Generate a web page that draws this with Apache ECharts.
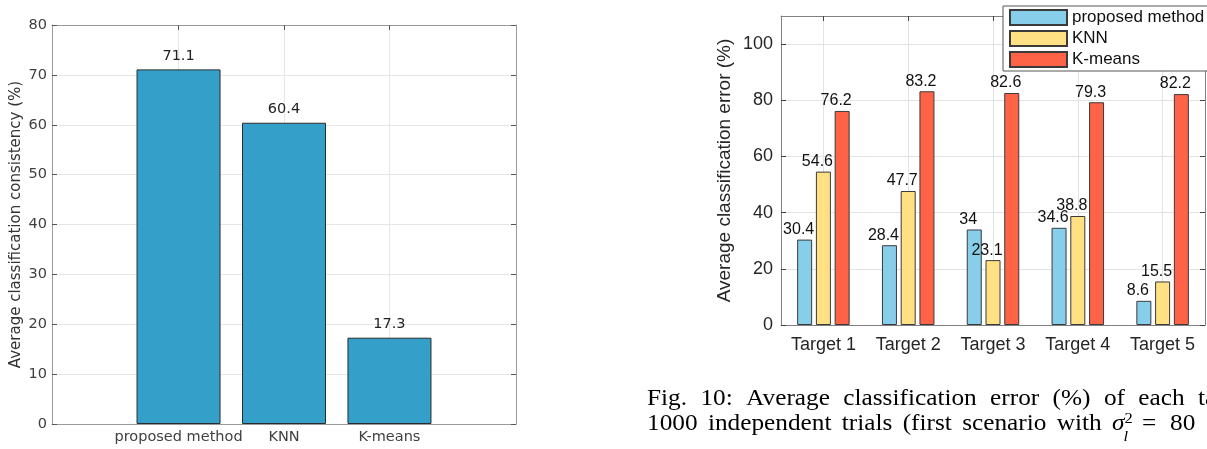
<!DOCTYPE html>
<html>
<head>
<meta charset="utf-8">
<script src="https://cdn.jsdelivr.net/npm/echarts@6/dist/echarts.min.js"></script>
<style>
  html, body { margin: 0; padding: 0; background: #fff; }
  #main { width: 1207px; height: 449px; }
</style>
</head>
<body>
<div id="main"></div>
<script>
// Left panel: average classification consistency per method
const methods = ['proposed method', 'KNN', 'K-means'];
const consistency = [71.1, 60.4, 17.3];
const consistencyTicks = [0, 10, 20, 30, 40, 50, 60, 70, 80];

// Right panel: average classification error per target
const targets = ['Target 1', 'Target 2', 'Target 3', 'Target 4', 'Target 5'];
const errorProposed = [30.4, 28.4, 34, 34.6, 8.6];
const errorKNN = [54.6, 47.7, 23.1, 38.8, 15.5];
const errorKMeans = [76.2, 83.2, 82.6, 79.3, 82.2];
const errorTicks = [0, 20, 40, 60, 80, 100];

// Caption words
const captionLine1 = ['Fig.', '10:', 'Average', 'classification', 'error', '(%)', 'of', 'each', 'target'];
const captionLine2 = ['1000', 'independent', 'trials', '(first', 'scenario', 'with'];

const methodSlots = methods.map((_, i) => i + 1);
const targetSlots = targets.map((_, i) => i + 1);

const LEFT_FONT = 'DejaVu Sans';
const RIGHT_FONT = 'Liberation Sans';
const SERIF = 'Liberation Serif';

const chart = echarts.init(document.getElementById('main'), null, { renderer: 'canvas' });

const leftBox = { show: true, onZero: false, lineStyle: { color: '#9a9a9a', width: 1 } };
const rightBox = { show: true, onZero: false, lineStyle: { color: '#808080', width: 1 } };
const leftGrid = { show: true, lineStyle: { color: '#e6e6e6', width: 1 } };
const rightGrid = { show: true, lineStyle: { color: '#e3e3e3', width: 1 } };

function innerTick(color, extra) {
  return Object.assign({ show: true, inside: true, length: 5, lineStyle: { color: color, width: 1 } }, extra || {});
}

// ---- caption layout (justified words, inline math) ----
const measureCtx = document.createElement('canvas').getContext('2d');
function textWidth(str, font) { measureCtx.font = font; return measureCtx.measureText(str).width; }

const capFont = '23px "' + SERIF + '"';
const scriptFont = '15px "' + SERIF + '"';
const capStretch = 1.1;   // caption type is set slightly wide
const capLeft = 647;
const line1Mid = 399;     // baseline ~405
const line2Mid = 423.5;   // baseline ~429.5

function justify(words, startX, lastWordX, fitCount) {
  // spread the first fitCount words so that word[fitCount] starts at lastWordX
  const widths = words.map(w => textWidth(w, capFont) * capStretch);
  let used = 0;
  for (let i = 0; i < fitCount; i++) used += widths[i];
  const gap = (lastWordX - startX - used) / fitCount;
  const xs = [];
  let x = startX;
  for (let i = 0; i < words.length; i++) { xs.push(x); x += widths[i] + gap; }
  return xs;
}

function capText(str, x, y, font) {
  return {
    type: 'text', x: x, y: y, z: 10, silent: true, scaleX: capStretch,
    style: { text: str, font: font, fill: '#000', verticalAlign: 'middle' }
  };
}

const line1X = justify(captionLine1, capLeft, 1198, captionLine1.length - 1);
const line2X = justify(captionLine2.concat(['σ']), capLeft, 1112, captionLine2.length);

const captionGraphics = [];
captionLine1.forEach((w, i) => captionGraphics.push(capText(w, line1X[i], line1Mid, capFont)));
captionLine2.forEach((w, i) => captionGraphics.push(capText(w, line2X[i], line2Mid, capFont)));
const sigmaX = line2X[captionLine2.length];
const sigmaW = textWidth('σ', 'italic ' + capFont) * capStretch;
captionGraphics.push(
  capText('σ', sigmaX, line2Mid, 'italic ' + capFont),
  capText('2', sigmaX + sigmaW, line2Mid - 4, scriptFont),
  capText('l', sigmaX + sigmaW - 1, line2Mid + 14, 'italic ' + scriptFont),
  capText('=', 1142, line2Mid, capFont),
  capText('80', 1170, line2Mid, capFont)
);

const labelStyleRight = {
  show: true, position: 'top', distance: 2, offset: [-6, 0],
  fontFamily: RIGHT_FONT, fontSize: 16, color: '#111'
};

const option = {
  backgroundColor: '#fff',
  animation: false,
  grid: [
    { left: 52, top: 25, width: 464, height: 399 },
    { left: 781, top: 16, width: 424, height: 309 }
  ],
  legend: {
    data: ['proposed method', 'KNN', 'K-means'],
    orient: 'vertical',
    left: 1003,
    top: 6,
    itemWidth: 57,
    itemHeight: 15,
    itemGap: 4,
    padding: [3, 40, 3, 6],
    borderColor: '#555',
    borderWidth: 1,
    backgroundColor: '#fff',
    icon: 'rect',
    textStyle: { fontFamily: RIGHT_FONT, fontSize: 17, color: '#111' }
  },
  xAxis: [
    {
      gridIndex: 0, type: 'value', position: 'bottom', min: -0.2, max: 4.2,
      axisLine: leftBox,
      axisTick: innerTick('#555', { customValues: methodSlots }),
      axisLabel: {
        customValues: methodSlots,
        formatter: v => methods[Math.round(v) - 1] || '',
        fontFamily: LEFT_FONT, fontSize: 14.5, color: '#404040', margin: 6
      },
      splitLine: leftGrid
    },
    {
      gridIndex: 0, type: 'value', position: 'top', min: -0.2, max: 4.2,
      axisLine: leftBox,
      axisTick: innerTick('#555', { customValues: methodSlots }),
      axisLabel: { show: false },
      splitLine: { show: false }
    },
    {
      gridIndex: 1, type: 'category', position: 'bottom', data: targets,
      axisLine: rightBox,
      axisTick: innerTick('#444', { alignWithLabel: true }),
      axisLabel: { fontFamily: RIGHT_FONT, fontSize: 18, color: '#262626', margin: 11 },
      splitLine: { show: false }
    },
    {
      gridIndex: 1, type: 'category', position: 'top', data: targets,
      axisLine: rightBox,
      axisTick: innerTick('#444', { alignWithLabel: true }),
      axisLabel: { show: false },
      splitLine: { show: false }
    },
    {
      // vertical grid lines through the group centres
      gridIndex: 1, type: 'value', position: 'bottom', min: 0.5, max: 5.5,
      axisLine: { show: false },
      axisTick: { show: false, customValues: targetSlots },
      axisLabel: { show: false, customValues: targetSlots },
      splitLine: rightGrid
    }
  ],
  yAxis: [
    {
      gridIndex: 0, type: 'value', position: 'left', min: 0, max: 80, interval: 10,
      axisLine: leftBox,
      axisTick: innerTick('#555'),
      axisLabel: { fontFamily: LEFT_FONT, fontSize: 14.5, color: '#404040', margin: 5,
        customValues: consistencyTicks },
      splitLine: leftGrid,
      name: 'Average classification consistency (%)',
      nameLocation: 'middle', nameRotate: 90, nameGap: 28,
      nameTextStyle: { fontFamily: LEFT_FONT, fontSize: 15, color: '#333' }
    },
    {
      gridIndex: 0, type: 'value', position: 'right', min: 0, max: 80, interval: 10,
      axisLine: leftBox,
      axisTick: innerTick('#555'),
      axisLabel: { show: false },
      splitLine: { show: false }
    },
    {
      gridIndex: 1, type: 'value', position: 'left', min: 0, max: 110, interval: 20,
      axisLine: rightBox,
      axisTick: innerTick('#444', { customValues: errorTicks }),
      axisLabel: { fontFamily: RIGHT_FONT, fontSize: 18, color: '#262626', margin: 8,
        customValues: errorTicks },
      splitLine: rightGrid,
      name: 'Average classification error (%)',
      nameLocation: 'middle', nameRotate: 90, nameGap: 47,
      nameTextStyle: { fontFamily: RIGHT_FONT, fontSize: 19, color: '#262626' }
    },
    {
      gridIndex: 1, type: 'value', position: 'right', min: 0, max: 110, interval: 20,
      axisLine: rightBox,
      axisTick: innerTick('#444', { customValues: errorTicks }),
      axisLabel: { show: false },
      splitLine: { show: false }
    }
  ],
  series: [
    {
      name: 'consistency',
      type: 'bar',
      xAxisIndex: 0, yAxisIndex: 0,
      data: consistency.map((v, i) => [methodSlots[i], v]),
      barWidth: 84,
      itemStyle: { color: '#34a0ca', borderColor: '#2b2b2b', borderWidth: 1 },
      label: {
        show: true, position: 'top', distance: 6,
        formatter: p => String(p.value[1]),
        fontFamily: LEFT_FONT, fontSize: 14.5, color: '#222'
      },
      z: 3
    },
    {
      name: 'proposed method', type: 'bar', xAxisIndex: 2, yAxisIndex: 2,
      data: errorProposed, barWidth: 15, barGap: '25%',
      itemStyle: { color: '#87ceeb', borderColor: '#3a3a3a', borderWidth: 1 },
      label: labelStyleRight, z: 3
    },
    {
      name: 'KNN', type: 'bar', xAxisIndex: 2, yAxisIndex: 2,
      data: errorKNN, barWidth: 15, barGap: '25%',
      itemStyle: { color: '#ffe083', borderColor: '#3a3a3a', borderWidth: 1 },
      label: labelStyleRight, z: 3
    },
    {
      name: 'K-means', type: 'bar', xAxisIndex: 2, yAxisIndex: 2,
      data: errorKMeans, barWidth: 15, barGap: '25%',
      itemStyle: { color: '#ff6347', borderColor: '#3a3a3a', borderWidth: 1 },
      label: labelStyleRight, z: 3
    }
  ],
  graphic: captionGraphics
};

chart.setOption(option);
</script>
</body>
</html>
